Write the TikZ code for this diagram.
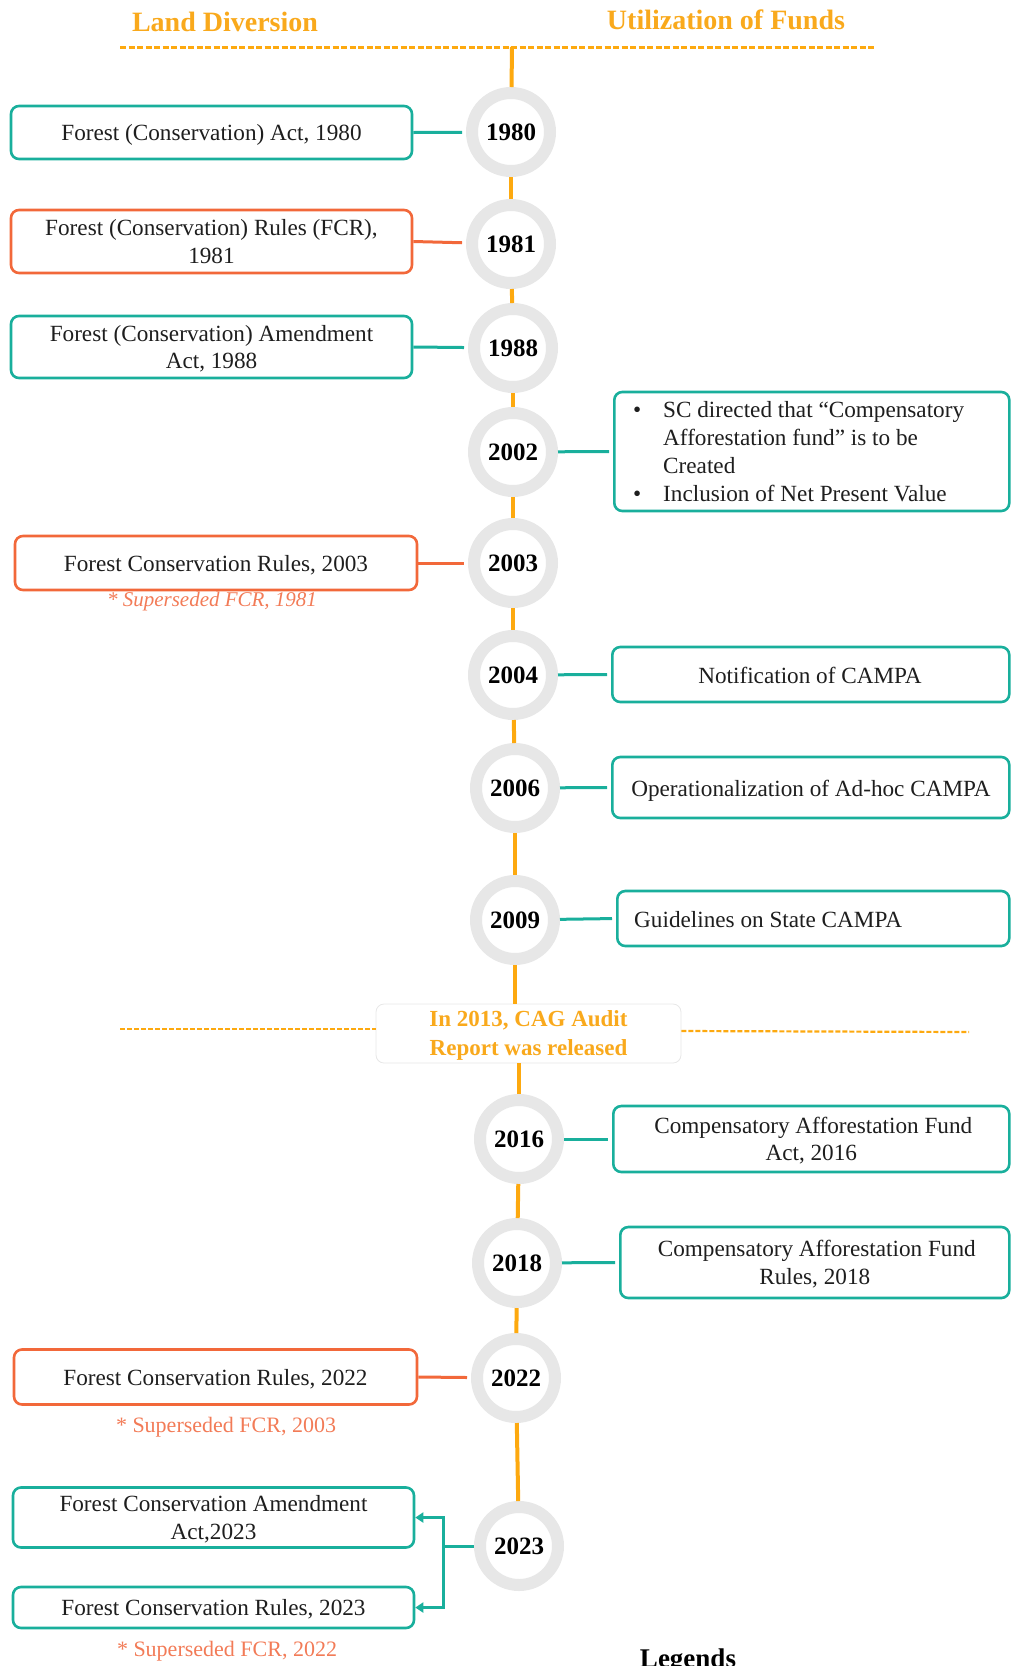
\documentclass[tikz,border=0pt]{standalone}
\usepackage{fontspec}
\setmainfont{Liberation Serif}
\usetikzlibrary{arrows.meta}

\definecolor{tealc}{HTML}{19AF9C}
\definecolor{oredc}{HTML}{F2683A}
\definecolor{spinec}{HTML}{FDA90F}
\definecolor{titlec}{HTML}{F9A91C}
\definecolor{notec}{HTML}{F27B57}
\definecolor{ringc}{HTML}{E7E7E7}
\definecolor{textc}{HTML}{1E1E1E}

\tikzset{
  yr/.style={circle, draw=ringc, line width=12pt, fill=white, minimum size=78pt,
    inner sep=0pt, text=black, font=\bfseries\fontsize{25}{25}\selectfont},
  tbox/.style={rectangle, draw=tealc, line width=2.6pt, rounded corners=8pt, fill=white,
    align=center, inner sep=0pt, text depth=0pt, text=textc,
    font=\fontsize{23.2}{27.5}\selectfont},
  obox/.style={tbox, draw=oredc},
  btxt/.style={inner sep=0pt, text depth=0pt, text=textc, font=\fontsize{23.2}{27.5}\selectfont},
  tlink/.style={draw=tealc, line width=3pt, shorten >=4pt},
  olink/.style={draw=oredc, line width=3pt, shorten >=4pt},
  spine/.style={draw=spinec, line width=4pt},
  ttl/.style={text=titlec, font=\bfseries\fontsize{28}{30}\selectfont},
  note/.style={text=notec, font=\fontsize{22}{24}\selectfont},
  inote/.style={text=notec, font=\itshape\fontsize{21}{24}\selectfont},
  dashtop/.style={draw=spinec, line width=3pt, dash pattern=on 6pt off 2.5pt},
  dashmid/.style={draw=spinec, line width=2.2pt, dash pattern=on 5pt off 2pt},
}

\begin{document}
\begin{tikzpicture}[x=1pt, y=-1pt]
\useasboundingbox (0,0) rectangle (1011,1666);
\clip (0,0) rectangle (1011,1666);

% headings
\node[ttl] (hland) at (225,22) {Land Diversion};
\node[ttl] (hfund) at (726,20) {Utilization of Funds};
\coordinate (hl) at (120,47);
\coordinate (hr) at (874,47);
\coordinate (top) at (512,47);
\draw[dashtop] (hl) -- (hr);

% years on the time line
\node[yr] (y1980) at (511,132) {1980};
\node[yr] (y1981) at (511,244) {1981};
\node[yr] (y1988) at (513,348) {1988};
\node[yr] (y2002) at (513,452) {2002};
\node[yr] (y2003) at (513,563) {2003};
\node[yr] (y2004) at (513,675) {2004};
\node[yr] (y2006) at (515,788) {2006};
\node[yr] (y2009) at (515,920) {2009};
\node[yr] (y2016) at (519,1139) {2016};
\node[yr] (y2018) at (517,1263) {2018};
\node[yr] (y2022) at (516,1378) {2022};
\node[yr] (y2023) at (519,1546) {2023};

% CAG report marker
\node[rectangle, draw=ringc, line width=0.8pt, rounded corners=8pt, fill=white,
  minimum width=305pt, minimum height=59pt, align=center, text=titlec, text depth=0pt,
  font=\bfseries\fontsize{23}{29}\selectfont] (cag) at (528.5,1033.5)
  {In 2013, CAG Audit\\Report was released};
\coordinate (cl) at (120,1029);
\coordinate (cr) at (969,1032);
\draw[dashmid] (cl) -- (cag.west |- cl);
\draw[dashmid] (cag.east |- 0,1031) -- (cr);

% spine
\draw[spine] (top) -- (y1980);
\draw[spine] (y1980) -- (y1981);
\draw[spine] (y1981) -- (y1988);
\draw[spine] (y1988) -- (y2002);
\draw[spine] (y2002) -- (y2003);
\draw[spine] (y2003) -- (y2004);
\draw[spine] (y2004) -- (y2006);
\draw[spine] (y2006) -- (y2009);
\draw[spine] (y2009) -- (y2009 |- cag.north);
\draw[spine] (y2016 |- cag.south) -- (y2016);
\draw[spine] (y2016) -- (y2018);
\draw[spine] (y2018) -- (y2022);
\draw[spine] (y2022) -- (y2023);

% land diversion side
\node[tbox, minimum width=401pt, minimum height=53pt] (l1980) at (211.5,132.5)
  {Forest (Conservation) Act, 1980};
\node[obox, minimum width=401pt, minimum height=63pt] (l1981) at (211.5,241.5)
  {Forest (Conservation) Rules (FCR),\\1981};
\node[tbox, minimum width=401pt, minimum height=62pt] (l1988) at (211.5,347)
  {Forest (Conservation) Amendment\\Act, 1988};
\node[obox, minimum width=402pt, minimum height=54pt] (l2003) at (216,563)
  {Forest Conservation Rules, 2003};
\node[inote] (n2003) at (212,601) {* Superseded FCR, 1981};
\node[obox, minimum width=403pt, minimum height=55pt] (l2022) at (215.5,1377)
  {Forest Conservation Rules, 2022};
\node[note] (n2022) at (226,1427) {* Superseded FCR, 2003};
\node[tbox, minimum width=401pt, minimum height=60pt] (l2023a) at (213.5,1517.5)
  {Forest Conservation Amendment\\Act,2023};
\node[tbox, minimum width=401pt, minimum height=41pt] (l2023b) at (213.5,1607.5)
  {Forest Conservation Rules, 2023};
\node[note] (n2023) at (227,1651) {* Superseded FCR, 2022};

\draw[tlink] (l1980.east) -- (y1980);
\draw[olink] (l1981.east) -- (y1981);
\draw[tlink] (l1988.east) -- (y1988);
\draw[olink] (l2003.east) -- (y2003);
\draw[olink] (l2022.east) -- (y2022);

\coordinate (j2023) at (443,1546);
\draw[draw=tealc, line width=3pt] (y2023) -- (j2023);
\draw[draw=tealc, line width=3pt, -{Triangle[length=8pt,width=10pt]}] (j2023) |- (l2023a.east);
\draw[draw=tealc, line width=3pt, -{Triangle[length=8pt,width=10pt]}] (j2023) |- (l2023b.east);

% utilization of funds side
\node[tbox, minimum width=395pt, minimum height=119pt, anchor=west] (r2002) at (613,451.5) {};
\node[anchor=west, align=left, inner sep=0pt, text=textc, font=\fontsize{23.2}{28}\selectfont] (t2002) at (633,452)
  {\makebox[30pt][l]{\textbullet}SC directed that “Compensatory\\
   \hspace*{30pt}Afforestation fund” is to be\\
   \hspace*{30pt}Created\\
   \makebox[30pt][l]{\textbullet}Inclusion of Net Present Value};
\node[tbox, minimum width=397pt, minimum height=55pt, anchor=west] (r2004) at (611,674.5) {};
\node[btxt] (t2004) at (810,675) {Notification of CAMPA};
\node[tbox, minimum width=397pt, minimum height=61pt, anchor=west] (r2006) at (611,787.5) {};
\node[btxt] (t2006) at (811,788) {Operationalization of Ad-hoc CAMPA};
\node[tbox, minimum width=392pt, minimum height=55pt, anchor=west] (r2009) at (616,918.5) {};
\node[btxt, anchor=west] (t2009) at (634,919) {Guidelines on State CAMPA};
\node[tbox, minimum width=396pt, minimum height=66pt, anchor=west] (r2016) at (612,1139)
  {\hspace*{4pt}Compensatory Afforestation Fund\\Act, 2016};
\node[tbox, minimum width=389pt, minimum height=71pt, anchor=west] (r2018) at (619,1262.5)
  {\hspace*{4pt}Compensatory Afforestation Fund\\Rules, 2018};

\draw[tlink] (y2002) -- (r2002.west);
\draw[tlink] (y2004) -- (r2004.west);
\draw[tlink] (y2006) -- (r2006.west);
\draw[tlink] (y2009) -- (r2009.west);
\draw[tlink] (y2016) -- (r2016.west);
\draw[tlink] (y2018) -- (r2018.west);

% legend heading, running off the lower edge
\node[anchor=base, text=black, font=\bfseries\fontsize{27}{27}\selectfont] (leg) at (688,1667) {Legends};
\end{tikzpicture}
\end{document}
